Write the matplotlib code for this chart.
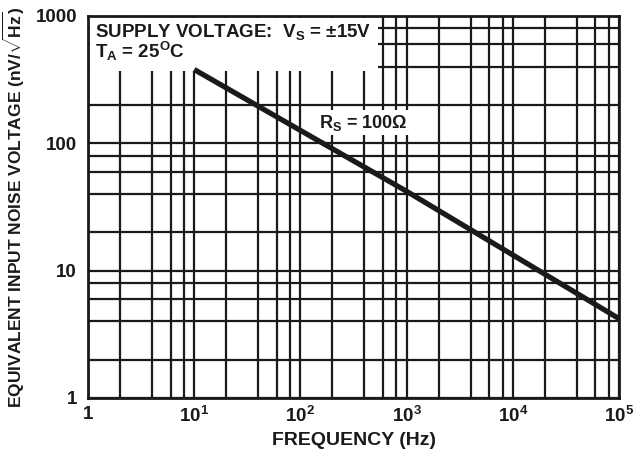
import matplotlib
matplotlib.use("Agg")
import matplotlib.pyplot as plt
from matplotlib.patches import Rectangle
import numpy as np

plt.rcParams['font.family'] = ['Liberation Sans', 'DejaVu Sans']
plt.rcParams['font.weight'] = 'bold'
plt.rcParams['mathtext.fontset'] = 'custom'
plt.rcParams['mathtext.rm'] = 'Liberation Sans:bold'
plt.rcParams['mathtext.bf'] = 'Liberation Sans:bold'
plt.rcParams['mathtext.it'] = 'Liberation Sans:bold'
plt.rcParams['mathtext.sf'] = 'Liberation Sans:bold'

# data
freq = [10, 1e3, 1e5]
noise = [380, 42, 4.2]
x_ticks = [1, 10, 100, 1000, 10000, 100000]
x_ticklabels = ['1', r'$10^1$', r'$10^2$', r'$10^3$', r'$10^4$', r'$10^5$']
y_ticks = [1, 10, 100, 1000]
y_ticklabels = ['1', '10', '100', '1000']
minor_vals = [2, 4, 6, 8]

fig = plt.figure(figsize=(6.35, 4.57), dpi=100)
ax = fig.add_axes([88/635, 1-398/457, (619-88)/635, (398-16)/457])
ax.set_xscale('log')
ax.set_yscale('log')
ax.set_xlim(1, 1e5)
ax.set_ylim(1, 1000)

# grid
xgrid = [m * 10**d for d in range(0, 5) for m in [1] + minor_vals] + [1e5]
ygrid = [m * 10**d for d in range(0, 3) for m in [1] + minor_vals] + [1000]
for xv in xgrid:
    ax.axvline(xv, color='#1a1a1a', lw=1.6, zorder=1)
for yv in ygrid:
    ax.axhline(yv, color='#1a1a1a', lw=1.6, zorder=1)

# white text region
ax.add_patch(Rectangle((0.004, 0.856), 0.542, 0.139, transform=ax.transAxes,
                       facecolor='white', edgecolor='none', zorder=2))

ax.plot(freq, noise, color='#1a1a1a', lw=3.8, solid_capstyle='butt', zorder=4)

ax.text(0.013, 0.945, r'SUPPLY VOLTAGE:  V$_\mathregular{S}$ = $\pm$15V', transform=ax.transAxes,
        fontsize=13.5, fontweight='bold', va='baseline', ha='left', zorder=3, color='#1a1a1a')
ax.text(0.013, 0.890, r'T$_\mathregular{A}$ = 25$^\mathregular{O}$C', transform=ax.transAxes,
        fontsize=13.5, fontweight='bold', va='baseline', ha='left', zorder=3, color='#1a1a1a')

ax.text(150, 145, r'R$_\mathregular{S}$ = 100$\Omega$', fontsize=13, fontweight='bold',
        va='center', ha='left', zorder=3, color='#1a1a1a',
        bbox=dict(facecolor='white', edgecolor='none', pad=2))

ax.set_xticks(x_ticks)
ax.set_xticklabels(x_ticklabels, fontsize=13.5, fontweight='bold')
ax.set_yticks(y_ticks)
ax.set_yticklabels(y_ticklabels, fontsize=13.5, fontweight='bold')
ax.minorticks_off()
ax.tick_params(axis='x', length=0, pad=6, colors='#1a1a1a')
ax.tick_params(axis='y', length=0, pad=8, colors='#1a1a1a')

for s in ax.spines.values():
    s.set_linewidth(2)
    s.set_color('#1a1a1a')
    s.set_zorder(5)

ax.set_xlabel('FREQUENCY (Hz)', fontsize=14, fontweight='bold', labelpad=4, color='#1a1a1a')
ax.set_ylabel(r'EQUIVALENT INPUT NOISE VOLTAGE (nV/$\sqrt{\mathregular{Hz}}$)', fontsize=12.5,
              fontweight='bold', labelpad=6, color='#1a1a1a')

fig.savefig('out.png', dpi=100)
